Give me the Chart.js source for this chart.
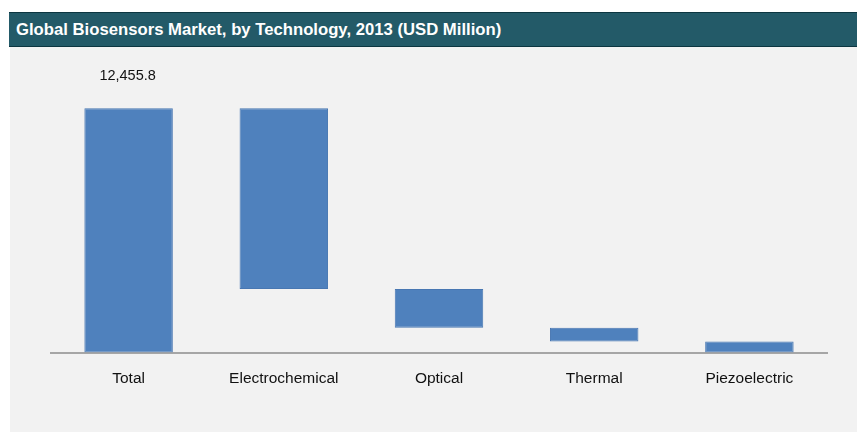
<!DOCTYPE html>
<html>
<head>
<meta charset="utf-8">
<script src="https://cdn.jsdelivr.net/npm/chart.js@4.4.1/dist/chart.umd.min.js"></script>
<style>
    html, body {
        margin: 0;
        padding: 0;
        background: #ffffff;
        width: 857px;
        height: 432px;
        overflow: hidden;
        font-family: "Liberation Sans", Arial, sans-serif;
    }
    .title-bar {
        position: absolute;
        left: 9px;
        top: 12px;
        width: 848px;
        height: 33px;
        background: #235a68;
        border-top: 1px solid #0c3641;
        border-bottom: 1px solid #0c3641;
        color: #ffffff;
        font-weight: bold;
        font-size: 16.7px;
        line-height: 34px;
        box-sizing: content-box;
    }
    .title-bar span {
        padding-left: 7px;
    }
    .panel {
        position: absolute;
        left: 10px;
        top: 47px;
        width: 847px;
        height: 385px;
        background: #f2f2f2;
    }
</style>
</head>
<body>
<div class="title-bar"><span>Global Biosensors Market, by Technology, 2013 (USD Million)</span></div>
<div class="panel"><canvas id="waterfall-chart" width="847" height="385"></canvas></div>
<script>
// Chart data (USD Million, 2013)
const categories = ['Total', 'Electrochemical', 'Optical', 'Thermal', 'Piezoelectric'];
const marketValues = [12455.8, 9220, 1975, 700, 560.8];
const totalLabel = '12,455.8';

// Build floating [low, high] ranges for the waterfall
const ranges = [];
let runningTop = marketValues[0];
ranges.push([0, marketValues[0]]);
for (let i = 1; i < marketValues.length; i++) {
    ranges.push([runningTop - marketValues[i], runningTop]);
    runningTop -= marketValues[i];
}

// Value label above the total bar
const totalLabelPlugin = {
    id: 'totalLabel',
    afterDatasetsDraw(chart) {
        const bar = chart.getDatasetMeta(0).data[0];
        const ctx = chart.ctx;
        ctx.save();
        ctx.font = '14.5px "Liberation Sans", Arial, sans-serif';
        ctx.fillStyle = '#111111';
        ctx.textAlign = 'center';
        ctx.textBaseline = 'middle';
        ctx.fillText(totalLabel, bar.x - 1, bar.y - 32);
        ctx.restore();
    }
};

const ctx = document.getElementById('waterfall-chart').getContext('2d');
const chart = new Chart(ctx, {
    type: 'bar',
    data: {
        labels: categories,
        datasets: [{
            data: ranges,
            backgroundColor: '#4f81bd',
            borderColor: '#4877b2',
            borderWidth: 1,
            borderSkipped: false,
            barPercentage: 0.57,
            categoryPercentage: 1
        }]
    },
    options: {
        responsive: false,
        animation: false,
        layout: {
            padding: { left: 41, right: 30, top: 31, bottom: 0 }
        },
        scales: {
            x: {
                grid: { display: false },
                border: { display: true, color: '#a6a6a6', width: 2 },
                ticks: {
                    color: '#111111',
                    padding: 9,
                    font: { family: '"Liberation Sans", Arial, sans-serif', size: 15.5 }
                },
                afterFit(scale) {
                    scale.height = 79.5;
                }
            },
            y: {
                display: false,
                min: 0,
                max: 14000
            }
        },
        plugins: {
            legend: { display: false },
            tooltip: { enabled: false }
        }
    },
    plugins: [totalLabelPlugin]
});
</script>
</body>
</html>
